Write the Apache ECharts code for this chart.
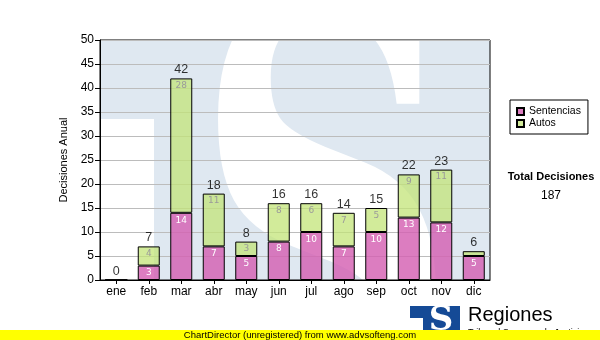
<!DOCTYPE html>
<html>
<head>
<meta charset="utf-8">
<script src="https://cdn.jsdelivr.net/npm/echarts@6/dist/echarts.min.js"></script>
<style>
html,body{margin:0;padding:0;background:#fff;}
#c{width:600px;height:340px;}
</style>
</head>
<body>
<div id="c"></div>
<script>
const categories = ['ene','feb','mar','abr','may','jun','jul','ago','sep','oct','nov','dic'];
const sentencias = [0,3,14,7,5,8,10,7,10,13,12,5];
const autos = [0,4,28,11,3,8,6,7,5,9,11,1];
const totals = [0,7,42,18,8,16,16,14,15,22,23,6];
const seriesNames = ['Sentencias','Autos'];
const yMin = 0, yMax = 50, yStep = 5;
const totalLabel = 'Total Decisiones';
const totalValue = '187';

const chart = echarts.init(document.getElementById('c'), null, {renderer:'canvas'});
const insideFmt = p => (p.value > 1 ? String(p.value) : '');
chart.setOption({
  animation:false,
  backgroundColor:'#ffffff',
  grid:{left:100, top:40, right:110, bottom:60, show:true, borderColor:'#000', borderWidth:1, backgroundColor:'transparent'},
  legend:{
    data:seriesNames, orient:'vertical', left:510, top:100,
    backgroundColor:'#fff', borderColor:'#000', borderWidth:1, borderRadius:0,
    padding:[6,7,5,6], itemWidth:7, itemHeight:7, itemGap:1, icon:'rect',
    textStyle:{fontFamily:'Liberation Sans', fontSize:10.5, color:'#000'}
  },
  xAxis:{
    type:'category', data:categories,
    axisLine:{lineStyle:{color:'#000', width:1}},
    axisTick:{show:true, alignWithLabel:true, length:4, lineStyle:{color:'#000'}},
    axisLabel:{color:'#000', fontFamily:'Liberation Sans', fontSize:12, margin:6},
    splitLine:{show:false}
  },
  yAxis:{
    type:'value', min:yMin, max:yMax, interval:yStep,
    name:'Decisiones Anual', nameLocation:'middle', nameGap:27,
    nameTextStyle:{fontFamily:'Liberation Sans', fontSize:11, color:'#000'},
    axisLine:{show:true, lineStyle:{color:'#000', width:1}},
    axisTick:{show:true, length:5, lineStyle:{color:'#000'}},
    axisLabel:{color:'#000', fontFamily:'Liberation Sans', fontSize:12, margin:6},
    splitLine:{show:true, lineStyle:{color:'#bcbcbc', width:1}}
  },
  series:[
    {name:seriesNames[0], type:'bar', stack:'a', data:sentencias, barWidth:22,
     itemStyle:{color:'rgba(212,96,178,0.82)', borderColor:'#000', borderWidth:1},
     label:{show:true, position:'insideTop', distance:3, color:'#fff', fontSize:9, fontFamily:'DejaVu Sans', formatter:insideFmt}},
    {name:seriesNames[1], type:'bar', stack:'a', data:autos, barWidth:22,
     itemStyle:{color:'rgba(195,228,120,0.75)', borderColor:'#000', borderWidth:1},
     label:{show:true, position:'insideTop', distance:3, color:'#9a9a9a', fontSize:9, fontFamily:'DejaVu Sans', formatter:insideFmt}},
    {name:'total', type:'scatter', data:totals, symbolSize:0, silent:true, z:5,
     label:{show:true, position:'top', distance:2, color:'#000', fontSize:12.5, fontFamily:'Liberation Sans', formatter:p=>String(p.value)}}
  ],
  graphic:[
    {type:'rect', z:-10, shape:{x:100,y:40,width:390,height:240}, style:{fill:'#dfe8f1'}},
    {type:'rect', z:-9, shape:{x:100,y:119,width:54,height:161}, style:{fill:'#fff'}},
    {type:'text', z:-9, x:326, y:268, scaleX:0.62, scaleY:1, style:{text:'S', fontSize:590, fontWeight:'bold', fontFamily:'DejaVu Serif', fill:'#fff', align:'center', verticalAlign:'middle'}},
    {type:'text', x:551, y:177, style:{text:totalLabel, fontSize:11, fontWeight:'bold', fontFamily:'Liberation Sans', fill:'#000', align:'center', verticalAlign:'middle'}},
    {type:'text', x:551, y:196, style:{text:totalValue, fontSize:12, fontFamily:'Liberation Sans', fill:'#000', align:'center', verticalAlign:'middle'}},
    {type:'rect', z:10, shape:{x:410,y:306,width:50,height:30}, style:{fill:'#154a96'}},
    {type:'rect', z:11, shape:{x:410,y:318,width:13,height:20}, style:{fill:'#fff'}},
    {type:'text', z:11, x:441, y:321, style:{text:'S', fontSize:34, fontWeight:'bold', fontFamily:'DejaVu Serif', fill:'#fff', align:'center', verticalAlign:'middle'}},
    {type:'text', z:11, x:468, y:305, style:{text:'Regiones', fontSize:20, fontFamily:'Liberation Sans', fill:'#000', verticalAlign:'top'}},
    {type:'text', z:11, x:468, y:328, style:{text:'Tribunal Supremo de Justicia', fontSize:9, fontFamily:'Liberation Sans', fill:'#000', verticalAlign:'top'}},
    {type:'rect', z:20, shape:{x:0,y:330,width:600,height:10}, style:{fill:'#ffff00'}},
    {type:'text', z:21, x:300, y:335, style:{text:'ChartDirector (unregistered) from www.advsofteng.com', fontSize:9.5, fontFamily:'Liberation Sans', fill:'#000', align:'center', verticalAlign:'middle'}}
  ]
});
</script>
</body>
</html>
